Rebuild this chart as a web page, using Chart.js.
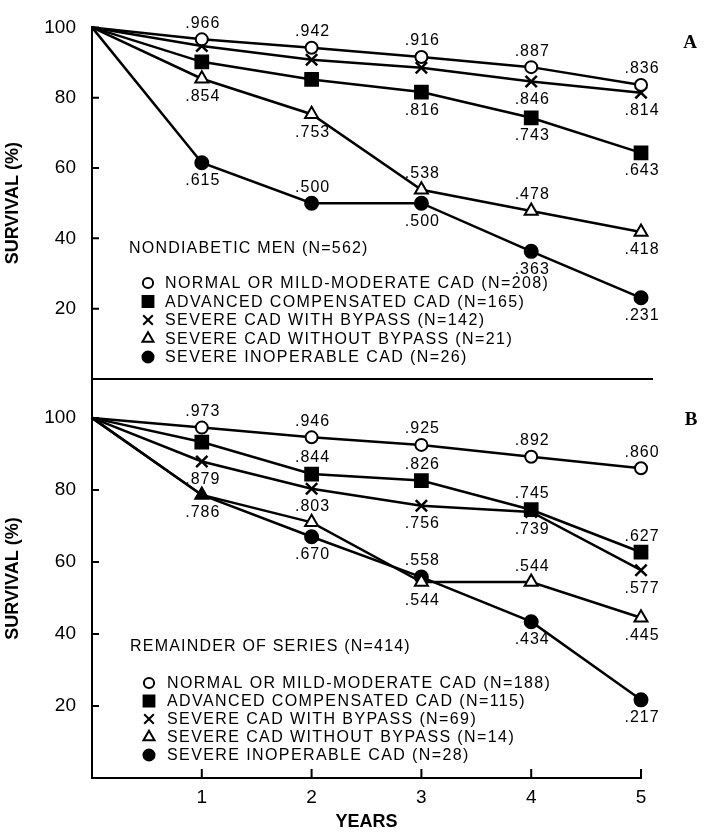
<!DOCTYPE html>
<html>
<head>
<meta charset="utf-8">
<script src="https://cdn.jsdelivr.net/npm/chart.js@4.4.1/dist/chart.umd.min.js"></script>
<style>
  html, body { margin: 0; padding: 0; background: #fff; }
  #wrap { position: relative; width: 710px; height: 833px; }
  canvas { position: absolute; left: 0; top: 0; }
</style>
</head>
<body>
<div id="wrap">
  <canvas id="chartA" width="710" height="833"></canvas>
  <canvas id="chartB" width="710" height="833"></canvas>
</div>
<script>
const years = [0, 1, 2, 3, 4, 5];
const yTicks = [20, 40, 60, 80, 100];
const xTicks = [1, 2, 3, 4, 5];

// panel A: nondiabetic men
const titleA = "NONDIABETIC MEN (N=562)";
const namesA = [
    "NORMAL OR MILD-MODERATE CAD (N=208)",
    "ADVANCED COMPENSATED CAD (N=165)",
    "SEVERE CAD WITH BYPASS (N=142)",
    "SEVERE CAD WITHOUT BYPASS (N=21)",
    "SEVERE INOPERABLE CAD (N=26)"
];
const normalA = [100, 96.6, 94.2, 91.6, 88.7, 83.6];
const advancedA = [100, 90.2, 85.2, 81.6, 74.3, 64.3];
const bypassA = [100, 94.7, 90.8, 88.5, 84.6, 81.4];
const noBypassA = [100, 85.4, 75.3, 53.8, 47.8, 41.8];
const inoperableA = [100, 61.5, 50.0, 50.0, 36.3, 23.1];

// panel B: remainder of series
const titleB = "REMAINDER OF SERIES (N=414)";
const namesB = [
    "NORMAL OR MILD-MODERATE CAD (N=188)",
    "ADVANCED COMPENSATED CAD (N=115)",
    "SEVERE CAD WITH BYPASS (N=69)",
    "SEVERE CAD WITHOUT BYPASS (N=14)",
    "SEVERE INOPERABLE CAD (N=28)"
];
const normalB = [100, 97.3, 94.6, 92.5, 89.2, 86.0];
const advancedB = [100, 93.3, 84.4, 82.6, 74.5, 62.7];
const bypassB = [100, 87.9, 80.3, 75.6, 73.9, 57.7];
const noBypassB = [100, 78.6, 71.0, 54.4, 54.4, 44.5];
const inoperableB = [100, 78.6, 67.0, 55.8, 43.4, 21.7];

// where the printed values sit: a = above the mark, b = below, "" = none
const placeA = [
    ["", "a", "a", "a", "a", "a"],
    ["", "", "", "b", "b", "b"],
    ["", "", "", "", "b", "b"],
    ["", "b", "b", "a", "a", "b"],
    ["", "b", "a", "b", "b", "b"]
];
const placeB = [
    ["", "a", "a", "a", "a", "a"],
    ["", "", "a", "a", "a", "a"],
    ["", "b", "b", "b", "b", "b"],
    ["", "b", "", "b", "a", "b"],
    ["", "", "b", "a", "b", "b"]
];

const FONT = '"Liberation Sans", Arial, sans-serif';

const markers = [
    { pointStyle: "circle", radius: 6, fill: "#fff" },
    { pointStyle: "rect", radius: 9, fill: "#000" },
    { pointStyle: "crossRot", radius: 8, fill: "#000" },
    { pointStyle: "triangle", radius: 7.5, fill: "#fff" },
    { pointStyle: "circle", radius: 6.5, fill: "#000" }
];

function makeDatasets(series, names, place) {
    return series.map((values, i) => {
        const m = markers[i];
        return {
            label: names[i],
            data: values,
            labelPos: place[i],
            borderColor: "#000",
            borderWidth: 2.5,
            tension: 0,
            clip: false,
            pointStyle: m.pointStyle,
            pointRadius: years.map(y => (y === 0 ? 0 : m.radius)),
            pointBackgroundColor: m.fill,
            pointBorderColor: "#000",
            pointBorderWidth: m.pointStyle === "crossRot" ? 2.5 : 2
        };
    });
}

// printed survival values next to the marks
const valueLabels = {
    id: "valueLabels",
    afterDatasetsDraw(chart) {
        const ctx = chart.ctx;
        ctx.save();
        ctx.font = "16px " + FONT;
        ctx.letterSpacing = "1px";
        ctx.fillStyle = "#000";
        ctx.textAlign = "center";
        ctx.textBaseline = "middle";
        chart.data.datasets.forEach((ds, i) => {
            const meta = chart.getDatasetMeta(i);
            meta.data.forEach((pt, j) => {
                const pos = ds.labelPos[j];
                if (!pos) return;
                const txt = "." + String(Math.round(ds.data[j] * 10)).padStart(3, "0");
                const dy = pos === "a" ? -16 : 18;
                ctx.fillText(txt, pt.x + 1, pt.y + dy);
            });
        });
        ctx.restore();
    }
};

// short ticks pointing into the plot, like the original
const innerTicks = {
    id: "innerTicks",
    afterDraw(chart, args, opts) {
        const ctx = chart.ctx;
        const area = chart.chartArea;
        ctx.save();
        ctx.strokeStyle = "#000";
        ctx.lineWidth = 2;
        ctx.beginPath();
        yTicks.forEach(v => {
            const y = chart.scales.y.getPixelForValue(v);
            ctx.moveTo(area.left, y);
            ctx.lineTo(area.left + 7, y);
        });
        if (opts.xTicks) {
            xTicks.forEach(v => {
                const x = chart.scales.x.getPixelForValue(v);
                ctx.moveTo(x, area.bottom);
                ctx.lineTo(x, area.bottom - 9);
            });
        }
        ctx.stroke();
        ctx.restore();
    }
};

// legend block inside the plot plus the panel letter
const panelLegend = {
    id: "panelLegend",
    afterDraw(chart, args, opts) {
        const ctx = chart.ctx;
        ctx.save();
        ctx.fillStyle = "#000";
        ctx.textBaseline = "middle";
        ctx.textAlign = "left";
        ctx.font = "16px " + FONT;
        ctx.letterSpacing = "1.2px";
        ctx.fillText(opts.title, opts.titleX, opts.titleY);
        ctx.letterSpacing = "1.4px";
        chart.data.datasets.forEach((ds, i) => {
            const y = opts.rowY + i * opts.rowGap;
            const m = markers[i];
            ctx.fillStyle = m.fill;
            ctx.strokeStyle = "#000";
            ctx.lineWidth = 2;
            Chart.helpers.drawPoint(ctx, {
                pointStyle: m.pointStyle,
                radius: m.radius * 0.85,
                rotation: 0,
                borderWidth: 2
            }, opts.symbolX, y);
            ctx.fillStyle = "#000";
            ctx.fillText(ds.label, opts.textX, y + 1);
        });
        ctx.letterSpacing = "0px";
        ctx.font = 'bold 19px "Liberation Serif", "Times New Roman", serif';
        ctx.textAlign = "center";
        ctx.fillText(opts.letter, opts.letterX, opts.letterY);
        ctx.restore();
    }
};

function yScale(max) {
    return {
        type: "linear",
        min: 0,
        max: max,
        afterBuildTicks: s => { s.ticks = yTicks.map(v => ({ value: v })); },
        afterFit: s => { s.width = 92; },
        ticks: { color: "#000", font: { family: FONT, size: 19 }, padding: 16 },
        grid: { display: false, drawTicks: false },
        border: { display: true, color: "#000", width: 2 },
        title: {
            display: true,
            text: "SURVIVAL (%)",
            color: "#000",
            font: { family: FONT, size: 18, weight: "bold" },
            padding: { top: 2, bottom: 0 }
        }
    };
}

const chartA = new Chart(document.getElementById("chartA"), {
    type: "line",
    data: {
        labels: years,
        datasets: makeDatasets([normalA, advancedA, bypassA, noBypassA, inoperableA], namesA, placeA)
    },
    options: {
        responsive: false,
        animation: false,
        events: [],
        layout: { padding: { left: 0, right: 58, top: 21, bottom: 454 } },
        scales: {
            x: {
                type: "linear",
                min: 0,
                max: 5.1,
                ticks: { display: false },
                grid: { display: false, drawTicks: false },
                border: { display: true, color: "#000", width: 2 },
                afterFit: s => { s.height = 0; }
            },
            y: yScale(100)
        },
        plugins: {
            legend: { display: false },
            tooltip: { enabled: false },
            innerTicks: { xTicks: false },
            panelLegend: {
                title: titleA, titleX: 129, titleY: 249,
                rowY: 283, rowGap: 18.5, symbolX: 148, textX: 165,
                letter: "A", letterX: 690, letterY: 43
            }
        }
    },
    plugins: [valueLabels, innerTicks, panelLegend]
});

const datasetsB = makeDatasets([normalB, advancedB, bypassB, noBypassB, inoperableB], namesB, placeB);
// at year 1 the two lowest groups share one point, printed as a solid triangle
datasetsB[3].pointBackgroundColor = years.map(y => (y === 1 ? "#000" : "#fff"));
datasetsB[4].pointRadius = years.map(y => (y <= 1 ? 0 : markers[4].radius));

const chartB = new Chart(document.getElementById("chartB"), {
    type: "line",
    data: { labels: years, datasets: datasetsB },
    options: {
        responsive: false,
        animation: false,
        events: [],
        layout: { padding: { left: 0, right: 69, top: 379, bottom: 0 } },
        scales: {
            x: {
                type: "linear",
                min: 0,
                max: 5,
                afterBuildTicks: s => { s.ticks = xTicks.map(v => ({ value: v })); },
                afterFit: s => { s.height = 55; },
                ticks: { color: "#000", font: { family: FONT, size: 19 }, padding: 8, maxRotation: 0 },
                grid: { display: false, drawTicks: false },
                border: { display: true, color: "#000", width: 2 },
                title: {
                    display: true,
                    text: "YEARS",
                    color: "#000",
                    font: { family: FONT, size: 18, weight: "bold" },
                    padding: 0
                }
            },
            y: yScale(110.8)
        },
        plugins: {
            legend: { display: false },
            tooltip: { enabled: false },
            innerTicks: { xTicks: true },
            panelLegend: {
                title: titleB, titleX: 130, titleY: 647,
                rowY: 683, rowGap: 18, symbolX: 149, textX: 167,
                letter: "B", letterX: 691, letterY: 420
            }
        }
    },
    plugins: [valueLabels, innerTicks, panelLegend]
});
</script>
</body>
</html>
